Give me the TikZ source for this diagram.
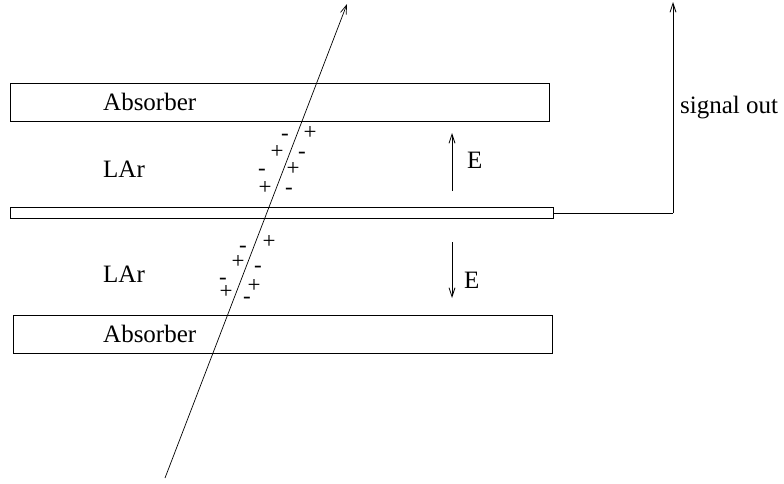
\documentclass[tikz,border=0pt]{standalone}
\usepackage{fontspec}
\setmainfont{Liberation Serif}
\usetikzlibrary{arrows.meta}
\begin{document}
\begin{tikzpicture}[x=1pt,y=-1pt,
  plate/.style={draw, line width=0.8pt, inner sep=0pt, outer sep=0pt},
  lbl/.style={inner sep=0pt, anchor=base west, font=\fontsize{25}{30}\selectfont},
  chg/.style={inner sep=0pt, anchor=base, font=\fontsize{23}{27}\selectfont},
  arr/.style={line width=0.8pt, -{Straight Barb[length=9pt,width=6pt]}},
  wire/.style={line width=0.8pt}]
\useasboundingbox (0,0) rectangle (784,483);
% plates
\node[plate, minimum width=539pt, minimum height=38pt] (abs1) at (279.5,102) {};
\node[plate, minimum width=543pt, minimum height=11pt] (elec) at (281.5,212.5) {};
\node[plate, minimum width=539pt, minimum height=38pt] (abs2) at (282.5,334) {};
% labels
\node[lbl] (t1) at (103,110) {Absorber};
\node[lbl] (t2) at (103,177) {LAr};
\node[lbl] (t3) at (103,282) {LAr};
\node[lbl] (t4) at (103,342) {Absorber};
\node[lbl] (e1) at (467,168) {E};
\node[lbl] (e2) at (464,288) {E};
\node[lbl] (so) at (680,113) {signal out};
% field arrows
\coordinate (ua) at (452,191);
\coordinate (ub) at (452,133);
\draw[arr] (ua) -- (ub);
\coordinate (da) at (452,242);
\coordinate (db) at (452,298);
\draw[arr] (da) -- (db);
% signal wire
\coordinate (corner) at (673,213);
\coordinate (stop) at (673,2);
\draw[wire] (elec.east |- corner) -- (corner);
\draw[arr] (corner) -- (stop);
% particle track
\coordinate (pa) at (165,478);
\coordinate (pb) at (347,4);
\draw[arr, line width=0.7pt] (pa) -- (pb);
% charges upper gap
\node[chg] (c1) at (285,140.5) {-};
\node[chg] (c2) at (310,139.5) {+};
\node[chg] (c3) at (277,158.5) {+};
\node[chg] (c4) at (302,158.5) {-};
\node[chg] (c5) at (262,175.5) {-};
\node[chg] (c6) at (293,175.5) {+};
\node[chg] (c7) at (265,194.5) {+};
\node[chg] (c8) at (289,194.5) {-};
% charges lower gap
\node[chg] (d1) at (243,252.5) {-};
\node[chg] (d2) at (269,248.5) {+};
\node[chg] (d3) at (238,268.5) {+};
\node[chg] (d4) at (258,272.5) {-};
\node[chg] (d5) at (223,284.5) {-};
\node[chg] (d6) at (254,292.5) {+};
\node[chg] (d7) at (226,298.5) {+};
\node[chg] (d8) at (247,303.5) {-};
\end{tikzpicture}
\end{document}
